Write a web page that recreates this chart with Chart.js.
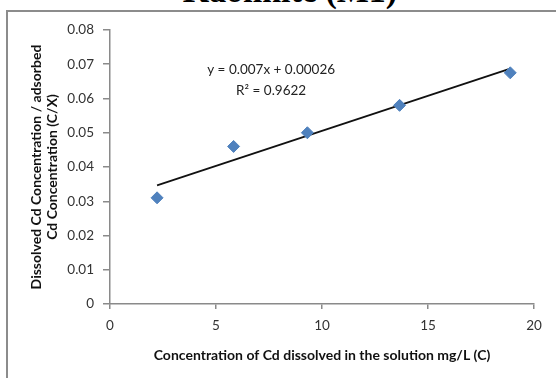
<!DOCTYPE html>
<html>
<head>
<meta charset="utf-8">
<script src="https://cdn.jsdelivr.net/npm/chart.js@4"></script>
<style>
  html, body { margin: 0; padding: 0; background: #fff; overflow: hidden; }
  #wrap { position: relative; width: 556px; height: 378px; overflow: hidden; }
  #title {
    position: absolute; left: 0; width: 580px; top: -26px; text-align: center;
    font: bold 34px 'Liberation Serif', serif; line-height: 34px; color: #000;
  }
  #frame {
    position: absolute; left: 6px; top: 10px; width: 600px; height: 420px;
    border-top: 2px solid #8c8c8c; border-left: 2px solid #8c8c8c;
  }
  canvas { position: absolute; left: 0; top: 0; }
</style>
</head>
<body>
<div id="wrap">
  <div id="title">Kaolinite (M1)</div>
  <div id="frame"></div>
  <canvas id="chart" width="556" height="378"></canvas>
</div>
<script>
const concC = [2.22, 5.83, 9.31, 13.66, 18.88];
const ratioCX = [0.031, 0.046, 0.050, 0.058, 0.0675];
const xTicks = [0, 5, 10, 15, 20];
const yTicks = [0, 0.01, 0.02, 0.03, 0.04, 0.05, 0.06, 0.07, 0.08];
const equationLines = ['y = 0.007x + 0.00026', 'R\u00B2 = 0.9622'];
const equationAt = { x: 7.6, y: 0.0684 };

// least squares trendline through the measured points
const n = concC.length;
const mx = concC.reduce((a, b) => a + b, 0) / n;
const my = ratioCX.reduce((a, b) => a + b, 0) / n;
let sxy = 0, sxx = 0;
for (let i = 0; i < n; i++) {
  sxy += (concC[i] - mx) * (ratioCX[i] - my);
  sxx += (concC[i] - mx) ** 2;
}
const slope = sxy / sxx;
const intercept = my - slope * mx;
const xMin = Math.min(...concC), xMax = Math.max(...concC);
const trend = [
  { x: xMin, y: intercept + slope * xMin },
  { x: xMax, y: intercept + slope * xMax },
];

const equationPlugin = {
  id: 'equation',
  afterDatasetsDraw(chart) {
    const { ctx, scales } = chart;
    const cx = scales.x.getPixelForValue(equationAt.x);
    const cy = scales.y.getPixelForValue(equationAt.y);
    ctx.save();
    ctx.fillStyle = '#222';
    ctx.font = '13.5px Lato';
    ctx.textAlign = 'center';
    ctx.textBaseline = 'middle';
    equationLines.forEach((t, i) => ctx.fillText(t, cx, cy + i * 21));
    ctx.restore();
  },
};

const tickFont = { family: 'Lato', size: 13.5 };
const titleFont = { family: 'Lato', size: 14, weight: 'bold', lineHeight: '16px' };
const axisColor = '#8a8a8a';

new Chart(document.getElementById('chart'), {
  type: 'scatter',
  data: {
    datasets: [
      {
        label: 'C/X',
        data: concC.map((x, i) => ({ x, y: ratioCX[i] })),
        pointStyle: 'rectRot',
        pointRadius: 6,
        pointHoverRadius: 6,
        backgroundColor: '#4F81BD',
        borderColor: '#4F81BD',
        borderWidth: 1,
      },
      {
        label: 'Linear',
        type: 'line',
        data: trend,
        borderColor: '#111',
        borderWidth: 1.8,
        pointRadius: 0,
        fill: false,
      },
    ],
  },
  options: {
    responsive: false,
    animation: false,
    layout: { padding: { left: 6, right: 22, top: 30, bottom: 0 } },
    plugins: {
      legend: { display: false },
      tooltip: { enabled: false },
    },
    scales: {
      x: {
        type: 'linear',
        min: 0,
        max: 20,
        afterBuildTicks: (s) => { s.ticks = xTicks.map((v) => ({ value: v })); },
        afterFit: (s) => { s.height = 74; },
        border: { color: axisColor, width: 1.5 },
        grid: { drawOnChartArea: false, tickLength: 5, color: axisColor, lineWidth: 1.5 },
        ticks: { color: '#333', font: tickFont, padding: 9 },
        title: {
          display: true,
          text: 'Concentration of Cd dissolved in the solution mg/L (C)',
          color: '#111',
          font: titleFont,
          padding: { top: 0, bottom: 15 },
        },
      },
      y: {
        type: 'linear',
        min: 0,
        max: 0.08,
        afterBuildTicks: (s) => { s.ticks = yTicks.map((v) => ({ value: v })); },
        afterFit: (s) => { s.width = 104; },
        border: { color: axisColor, width: 1.5 },
        grid: { drawOnChartArea: false, tickLength: 7, color: axisColor, lineWidth: 1.5 },
        ticks: {
          color: '#333',
          font: tickFont,
          padding: 9,
          callback: (v) => (v === 0 ? '0' : v.toFixed(2)),
        },
        title: {
          display: true,
          text: ['Dissolved Cd Concentration / adsorbed', 'Cd Concentration (C/X)'],
          color: '#111',
          font: titleFont,
          padding: { top: 22, bottom: 0 },
        },
      },
    },
  },
  plugins: [equationPlugin],
});
</script>
</body>
</html>
